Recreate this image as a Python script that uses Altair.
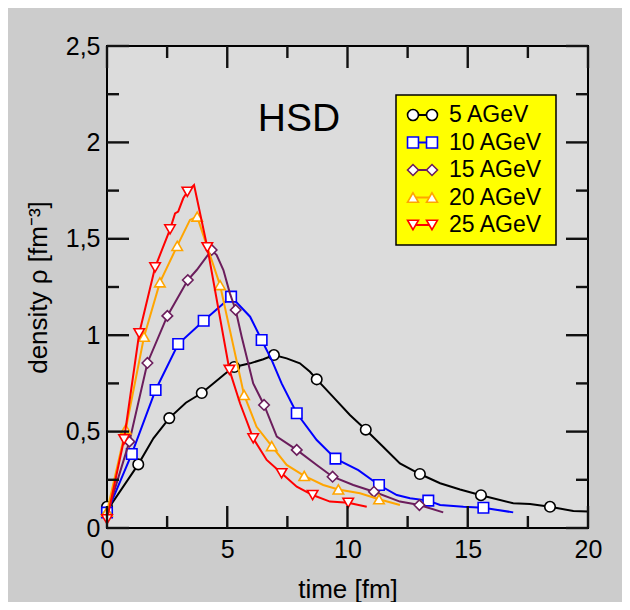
import altair as alt
import pandas as pd

series = ["5 AGeV", "10 AGeV", "15 AGeV", "20 AGeV", "25 AGeV"]
colors = ["#000000", "#0000ff", "#6b1d5c", "#ffa500", "#ff0000"]
shapes = ["circle", "square", "diamond", "triangle-up", "triangle-down"]

# 5 AGeV
t_line_5 = [0, 1.30, 1.93, 2.59, 3.28, 3.94, 4.42, 4.91, 5.29, 5.95, 6.50, 6.94, 7.47, 8.02, 8.44, 8.72, 9.40, 10.10, 10.76, 11.49, 12.18, 13.01, 13.85, 14.68, 15.55, 16.89, 17.59, 18.42, 19.39, 20.0]
rho_line_5 = [0.09, 0.33, 0.465, 0.57, 0.65, 0.70, 0.75, 0.80, 0.835, 0.854, 0.875, 0.897, 0.88, 0.854, 0.81, 0.771, 0.68, 0.586, 0.51, 0.42, 0.335, 0.28, 0.232, 0.20, 0.17, 0.128, 0.125, 0.11, 0.088, 0.085]
t_mark_5 = [0, 1.30, 2.59, 3.94, 5.29, 6.94, 8.72, 10.76, 13.01, 15.55, 18.42]
rho_mark_5 = [0.11, 0.33, 0.57, 0.70, 0.835, 0.897, 0.771, 0.51, 0.28, 0.17, 0.11]

# 10 AGeV
t_line_10 = [0, 1.03, 2.02, 2.96, 4.02, 4.84, 5.16, 5.95, 6.43, 6.85, 7.26, 7.89, 8.72, 9.50, 10.45, 11.31, 12.05, 12.60, 13.36, 13.85, 14.82, 15.65, 16.89]
rho_line_10 = [0.08, 0.384, 0.716, 0.954, 1.075, 1.165, 1.20, 1.096, 0.975, 0.871, 0.75, 0.595, 0.456, 0.36, 0.30, 0.223, 0.171, 0.154, 0.142, 0.119, 0.11, 0.105, 0.081]
t_mark_10 = [0, 1.03, 2.02, 2.96, 4.02, 5.16, 6.43, 7.89, 9.50, 11.31, 13.36, 15.65]
rho_mark_10 = [0.08, 0.384, 0.716, 0.954, 1.075, 1.20, 0.975, 0.595, 0.36, 0.223, 0.142, 0.105]

# 15 AGeV
t_line_15 = [0, 0.93, 1.68, 2.51, 3.36, 3.73, 4.35, 4.56, 4.84, 5.11, 5.35, 5.60, 6.08, 6.53, 7.06, 7.89, 8.72, 9.38, 10.24, 11.10, 12.18, 12.99, 13.98]
rho_line_15 = [0.07, 0.448, 0.856, 1.10, 1.286, 1.338, 1.442, 1.416, 1.338, 1.217, 1.131, 0.992, 0.75, 0.638, 0.474, 0.405, 0.327, 0.266, 0.223, 0.188, 0.137, 0.119, 0.081]
t_mark_15 = [0, 0.93, 1.68, 2.51, 3.36, 4.35, 5.35, 6.53, 7.89, 9.38, 11.10, 12.99]
rho_mark_15 = [0.07, 0.448, 0.856, 1.10, 1.286, 1.442, 1.131, 0.638, 0.405, 0.266, 0.188, 0.119]

# 20 AGeV
t_line_20 = [0, 0.78, 1.54, 2.20, 2.92, 3.45, 3.75, 3.98, 4.70, 5.70, 6.22, 6.85, 7.47, 8.20, 8.99, 9.62, 10.52, 11.31, 12.18]
rho_line_20 = [0.085, 0.512, 0.992, 1.274, 1.463, 1.598, 1.615, 1.528, 1.26, 0.69, 0.525, 0.425, 0.327, 0.27, 0.223, 0.20, 0.18, 0.149, 0.119]
t_mark_20 = [0, 0.78, 1.54, 2.20, 2.92, 3.75, 4.70, 5.70, 6.85, 8.20, 9.62, 11.31]
rho_mark_20 = [0.085, 0.512, 0.992, 1.274, 1.463, 1.615, 1.26, 0.69, 0.425, 0.27, 0.20, 0.149]

# 25 AGeV
t_line_25 = [0, 0.71, 1.34, 2.00, 2.62, 2.83, 2.96, 3.17, 3.34, 3.62, 4.17, 5.09, 5.53, 6.08, 6.64, 7.26, 7.89, 8.55, 9.27, 10.03, 10.80]
rho_line_25 = [0.045, 0.46, 1.01, 1.352, 1.549, 1.632, 1.641, 1.71, 1.744, 1.779, 1.456, 0.82, 0.647, 0.465, 0.353, 0.284, 0.214, 0.171, 0.137, 0.131, 0.11]
t_mark_25 = [0, 0.71, 1.34, 2.00, 2.62, 3.34, 4.17, 5.09, 6.08, 7.26, 8.55, 10.03]
rho_mark_25 = [0.045, 0.46, 1.01, 1.352, 1.549, 1.744, 1.456, 0.82, 0.465, 0.284, 0.171, 0.131]

x_major = [0, 5, 10, 15, 20]
x_minor = [2.5, 7.5, 12.5, 17.5]
y_major = [0, 0.5, 1, 1.5, 2, 2.5]
y_minor = [0.25, 0.75, 1.25, 1.75, 2.25]

lines = [(t_line_5, rho_line_5), (t_line_10, rho_line_10), (t_line_15, rho_line_15),
         (t_line_20, rho_line_20), (t_line_25, rho_line_25)]
marks = [(t_mark_5, rho_mark_5), (t_mark_10, rho_mark_10), (t_mark_15, rho_mark_15),
         (t_mark_20, rho_mark_20), (t_mark_25, rho_mark_25)]

W, H = 481, 482
XMAX, YMAX = 20.0, 2.5
FONT = "Liberation Sans"

xs = alt.Scale(domain=[0, XMAX], nice=False, zero=False)
ys = alt.Scale(domain=[0, YMAX], nice=False, zero=False)
color_scale = alt.Scale(domain=series, range=colors)
shape_scale = alt.Scale(domain=series, range=shapes)

x_axis = alt.Axis(values=x_major, labelPadding=9, titlePadding=14, labelFlush=False)
y_axis = alt.Axis(values=y_major, labelPadding=7, titlePadding=14, labelFlush=False,
                  labelExpr="replace(toString(datum.value), '.', ',')")
X_TITLE = "time [fm]"
Y_TITLE = "density ρ [fm⁻³]"


def xenc(field):
    return alt.X(field, type="quantitative", scale=xs, axis=x_axis, title=X_TITLE)


def yenc(field):
    return alt.Y(field, type="quantitative", scale=ys, axis=y_axis, title=Y_TITLE)


# inward tick marks as short two-point segments in data space (axis decoration)
def tick_segments():
    rows = []
    seg = 0
    for vals, length in ((x_major, 22), (x_minor, 12)):
        dy = length / H * YMAX
        for v in vals:
            for a, b in ((0.0, dy), (YMAX - dy, YMAX)):
                rows.append({"t": v, "rho": a, "seg": seg})
                rows.append({"t": v, "rho": b, "seg": seg})
                seg += 1
    for vals, length in ((y_major, 22), (y_minor, 12)):
        dx = length / W * XMAX
        for v in vals:
            for a, b in ((0.0, dx), (XMAX - dx, XMAX)):
                rows.append({"t": a, "rho": v, "seg": seg})
                rows.append({"t": b, "rho": v, "seg": seg})
                seg += 1
    return pd.DataFrame(rows)


layers = []

for name, (lt, lr), (mt, mr) in zip(series, lines, marks):
    dl = pd.DataFrame({"t": lt, "rho": lr, "series": name})
    dm = pd.DataFrame({"t": mt, "rho": mr, "series": name})
    layers.append(alt.Chart(dl).mark_line(strokeWidth=2).encode(
        x=xenc("t"), y=yenc("rho"),
        color=alt.Color("series:N", scale=color_scale, legend=None)))
    layers.append(alt.Chart(dm).mark_point(filled=True, fill="white", size=110, strokeWidth=1.6, opacity=1).encode(
        x=xenc("t"), y=yenc("rho"),
        stroke=alt.Stroke("series:N", scale=color_scale, legend=None),
        shape=alt.Shape("series:N", scale=shape_scale, legend=None)))

layers.append(alt.Chart(tick_segments()).mark_line(strokeWidth=2.4, color="#111111").encode(
    x=xenc("t"), y=yenc("rho"), detail="seg:N"))

# title text
one = pd.DataFrame({"label": ["HSD"]})
layers.append(alt.Chart(one).mark_text(fontSize=39, font=FONT, align="center", baseline="middle", color="black").encode(
    text="label:N", x=alt.value(192), y=alt.value(73)))

# legend
box = pd.DataFrame({"a": [0]})
layers.append(alt.Chart(box).mark_rect(fill="#ffff00", stroke="black", strokeWidth=1.5).encode(
    x=alt.value(289), x2=alt.value(449), y=alt.value(49), y2=alt.value(199)))

leg = pd.DataFrame({"series": series, "row": list(range(len(series)))})
legbase = alt.Chart(leg).transform_calculate(ly="69 + datum.row * 27.5")
layers.append(legbase.mark_rule(strokeWidth=2).encode(
    y=alt.Y("ly:Q", scale=None), x=alt.value(306), x2=alt.value(325),
    color=alt.Color("series:N", scale=color_scale, legend=None)))
for px in (306, 325):
    layers.append(legbase.mark_point(filled=True, fill="white", size=120, strokeWidth=1.6, opacity=1).encode(
        y=alt.Y("ly:Q", scale=None), x=alt.value(px),
        stroke=alt.Stroke("series:N", scale=color_scale, legend=None),
        shape=alt.Shape("series:N", scale=shape_scale, legend=None)))
layers.append(legbase.mark_text(fontSize=23, font=FONT, align="left", baseline="middle", color="black").encode(
    y=alt.Y("ly:Q", scale=None), x=alt.value(342), text="series:N"))

chart = alt.layer(*layers).properties(
    width=W, height=H,
    autosize=alt.AutoSizeParams(type="none"),
    padding={"left": 99, "top": 38, "right": 34, "bottom": 74},
).configure(
    background="#cccccc", font=FONT
).configure_view(
    fill="#dcdcdc", stroke="black", strokeWidth=2
).configure_axis(
    grid=False, ticks=False, domain=False,
    labelColor="black", titleColor="black",
    labelFont=FONT, titleFont=FONT,
    labelFontSize=25, titleFontSize=26, titleFontWeight="normal",
)

chart.save("out.html", embed_options={"renderer": "svg", "actions": False})
